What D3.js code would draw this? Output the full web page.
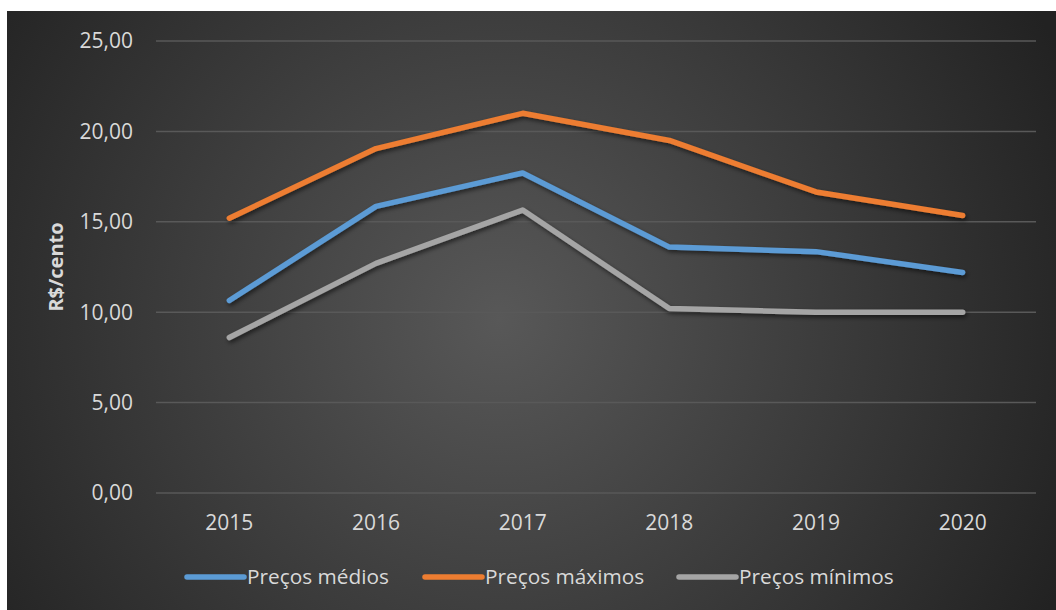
<!DOCTYPE html>
<html>
<head>
<meta charset="utf-8">
<script src="https://d3js.org/d3.v7.min.js"></script>
<style>
  body { margin: 0; background: #fff; }
  text { font-family: "Open Sans", sans-serif; fill: #d9d9d9; }
</style>
</head>
<body>
<svg width="1056" height="610"></svg>
<script>
    // data
    var years = ["2015", "2016", "2017", "2018", "2019", "2020"];
    var medios = [10.65, 15.85, 17.7, 13.6, 13.35, 12.2];
    var maximos = [15.2, 19.05, 21.0, 19.5, 16.65, 15.35];
    var minimos = [8.6, 12.7, 15.65, 10.2, 10.0, 10.0];
    var yTicks = [0, 5, 10, 15, 20, 25];

    var series = [
        {name: "Preços médios", values: medios, color: "#5b9bd5"},
        {name: "Preços máximos", values: maximos, color: "#ed7d31"},
        {name: "Preços mínimos", values: minimos, color: "#a5a5a5"}
    ];

    var svg = d3.select("svg");

    var defs = svg.append("defs");
    var grad = defs.append("radialGradient")
        .attr("id", "bg")
        .attr("gradientUnits", "userSpaceOnUse")
        .attr("cx", 500).attr("cy", 320).attr("r", 620);
    grad.append("stop").attr("offset", "0%").attr("stop-color", "#585858");
    grad.append("stop").attr("offset", "100%").attr("stop-color", "#222222");

    var shadow = defs.append("filter").attr("id", "shadow")
        .attr("x", "-10%").attr("y", "-10%").attr("width", "120%").attr("height", "130%");
    shadow.append("feDropShadow")
        .attr("dx", 1.5).attr("dy", 2.5).attr("stdDeviation", 2)
        .attr("flood-color", "#000").attr("flood-opacity", 0.55);

    svg.append("rect")
        .attr("x", 7).attr("y", 11)
        .attr("width", 1049).attr("height", 599)
        .attr("fill", "url(#bg)");

    var x = d3.scalePoint().domain(years).range([156, 1036]).padding(0.5);
    var y = d3.scaleLinear().domain([0, 25]).range([493, 41]);

    // gridlines
    svg.append("g").selectAll("line")
        .data(yTicks)
        .enter().append("line")
        .attr("x1", 156).attr("x2", 1036)
        .attr("y1", function(d) { return y(d); })
        .attr("y2", function(d) { return y(d); })
        .attr("stroke", "#595959")
        .attr("stroke-width", 1.5);

    // y tick labels
    var fmt = function(d) { return d3.format(".2f")(d).replace(".", ","); };
    svg.append("g").selectAll("text")
        .data(yTicks)
        .enter().append("text")
        .attr("x", 133)
        .attr("y", function(d) { return y(d); })
        .attr("dy", "0.35em")
        .attr("text-anchor", "end")
        .style("font-size", "21px")
        .text(fmt);

    // x labels
    svg.append("g").selectAll("text")
        .data(years)
        .enter().append("text")
        .attr("x", function(d) { return x(d); })
        .attr("y", 523)
        .attr("dy", "0.35em")
        .attr("text-anchor", "middle")
        .style("font-size", "21px")
        .text(function(d) { return d; });

    // axis title
    svg.append("text")
        .attr("transform", "translate(56,267) rotate(-90)")
        .attr("dy", "0.35em")
        .attr("text-anchor", "middle")
        .style("font-size", "20px")
        .style("font-weight", "bold")
        .text("R$/cento");

    var line = d3.line()
        .x(function(d, i) { return x(years[i]); })
        .y(function(d) { return y(d); });

    svg.append("g").attr("filter", "url(#shadow)")
        .selectAll("path")
        .data(series)
        .enter().append("path")
        .attr("d", function(d) { return line(d.values); })
        .attr("fill", "none")
        .attr("stroke", function(d) { return d.color; })
        .attr("stroke-width", 5.5)
        .attr("stroke-linecap", "round")
        .attr("stroke-linejoin", "round");

    // legend
    var legendX = [187, 425, 679];
    var lg = svg.append("g").selectAll("g")
        .data(series)
        .enter().append("g")
        .attr("transform", function(d, i) { return "translate(" + legendX[i] + ",577)"; });
    lg.append("line")
        .attr("x1", 0).attr("x2", 57)
        .attr("stroke", function(d) { return d.color; })
        .attr("stroke-width", 5.5)
        .attr("stroke-linecap", "round");
    lg.append("text")
        .attr("x", 60)
        .attr("dy", "0.35em")
        .style("font-size", "20.8px")
        .text(function(d) { return d.name; });
</script>
</body>
</html>
